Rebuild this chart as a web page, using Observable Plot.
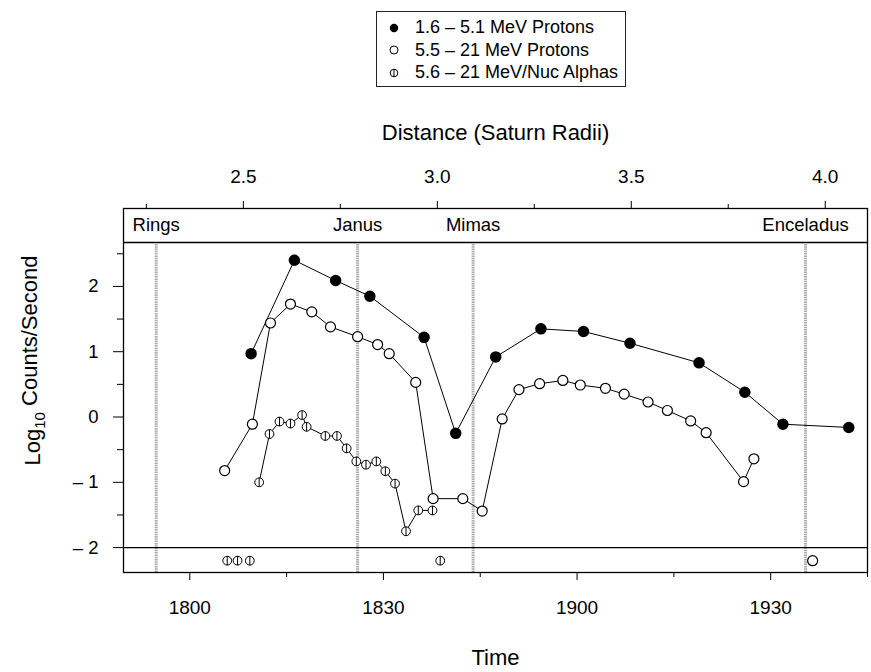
<!DOCTYPE html>
<html>
<head>
<meta charset="utf-8">
<script src="https://cdn.jsdelivr.net/npm/d3@7"></script>
<script src="https://cdn.jsdelivr.net/npm/@observablehq/plot@0.6"></script>
<style>
  body { margin: 0; background: #fff; font-family: "Liberation Sans", Arial, Helvetica, sans-serif; }
  #legend { position: relative; width: 871px; height: 100px; }
  #legend .box { position: absolute; left: 376px; top: 11px; width: 248px; height: 70px; padding-top: 4px;
                 border: 1px solid #222; }
  #legend .row { position: relative; height: 22.5px; line-height: 22.5px; font-size: 18px;
                 padding-left: 38px; white-space: nowrap; color: #000; }
  #legend .row svg { position: absolute; left: 10px; top: 4.5px; }
  #chart svg { display: block; }
</style>
</head>
<body>
<div id="legend"></div>
<div id="chart"></div>
<script>
// Energetic particle count rates during the Saturn ring-plane crossing.
// Times are minutes after 18:00 UT; rates are log10 counts per second.

const seriesNames = ["1.6 \u2013 5.1 MeV Protons", "5.5 \u2013 21 MeV Protons", "5.6 \u2013 21 MeV/Nuc Alphas"];

// 1.6 - 5.1 MeV protons
const lowProtonTime = [9.5, 16.2, 22.6, 27.9, 36.3, 41.2, 47.4, 54.4, 61.0, 68.2, 78.9, 86.0, 91.9, 102.1];
const lowProtonLog  = [0.97, 2.40, 2.09, 1.85, 1.22, -0.25, 0.92, 1.35, 1.31, 1.13, 0.83, 0.38, -0.11, -0.16];

// 5.5 - 21 MeV protons
const highProtonTime = [5.4, 9.7, 12.5, 15.6, 18.9, 21.8, 26.0, 29.1, 30.9, 35.0, 37.7, 42.3, 45.3,
                        48.4, 51.0, 54.2, 57.8, 60.5, 64.4, 67.3, 71.0, 74.0, 77.6, 80.0, 85.8, 87.4];
const highProtonLog  = [-0.82, -0.11, 1.44, 1.73, 1.61, 1.38, 1.23, 1.11, 0.97, 0.53, -1.25, -1.25, -1.44,
                        -0.03, 0.42, 0.51, 0.56, 0.49, 0.44, 0.35, 0.23, 0.10, -0.06, -0.24, -0.99, -0.64];
const highProtonBelowTime = [96.5];   // samples with no detectable counts

// 5.6 - 21 MeV/nucleon alphas
const alphaTime = [10.75, 12.35, 13.9, 15.6, 17.4, 18.1, 21.0, 22.8, 24.3, 25.8, 27.3, 28.9, 30.3,
                   31.8, 33.5, 35.4, 37.6];
const alphaLog  = [-1.00, -0.26, -0.07, -0.10, 0.03, -0.15, -0.29, -0.29, -0.48, -0.68, -0.73, -0.68,
                   -0.83, -1.02, -1.75, -1.43, -1.43];
const alphaBelowTime = [5.8, 7.4, 9.3, 38.8];

// Ring edge and satellite orbits crossed
const moonNames = ["Rings", "Janus", "Mimas", "Enceladus"];
const moonTime  = [-5.2, 26.0, 43.9, 95.4];

// Axis ticks
const timeTicks = [0, 30, 60, 90];
const timeTickLabels = ["1800", "1830", "1900", "1930"];
const timeMinorTicks = [15, 45, 75, 105];
const distTicks = [2.5, 3.0, 3.5, 4.0];
const distTickLabels = ["2.5", "3.0", "3.5", "4.0"];
const distMinorTicks = [2.25, 2.75, 3.25, 3.75];
const yTicks = [-2, -1, 0, 1, 2];
const yTickLabels = ["\u2013 2", "\u2013 1", "0", "1", "2"];
const yMinorTicks = [-1.5, -0.5, 0.5, 1.5, 2.5];

// Radial distance (Saturn radii) along the trajectory, as minutes after 18:00
const DIST_T0 = 8.3, MIN_PER_RS = 60.1;
const distToTime = d => DIST_T0 + (d - 2.5) * MIN_PER_RS;

// Panel layout in data units: label strip on top, "not detected" strip below -2
const Y_BOTTOM = -2.381, Y_TOP = 3.193, STRIP = 2.672, FLOOR = -2, BELOW = -2.2;

const rows = (ts, vs) => ts.map((t, i) => ({t, v: vs[i]}));
const lowProton = rows(lowProtonTime, lowProtonLog);
const highProton = rows(highProtonTime, highProtonLog);
const alpha = rows(alphaTime, alphaLog);
const moons = moonNames.map((name, i) => ({name, t: moonTime[i]}));

const timeLabel = new Map(timeTicks.map((t, i) => [t, timeTickLabels[i]]));
const distMajorT = distTicks.map(distToTime);
const distLabel = new Map(distMajorT.map((t, i) => [t, distTickLabels[i]]));
const yLabel = new Map(yTicks.map((v, i) => [v, yTickLabels[i]]));

// Circle with a vertical bar (phi) for alphas
const phi = {
  draw(ctx, size) {
    const r = Math.sqrt(size / Math.PI);
    ctx.moveTo(r, 0);
    ctx.arc(0, 0, r, 0, 2 * Math.PI);
    ctx.moveTo(0, -r);
    ctx.lineTo(0, r);
  }
};

// Legend
const legendSymbols = [
  '<svg width="14" height="14"><circle cx="7" cy="7" r="4.2" fill="#000"/></svg>',
  '<svg width="14" height="14"><circle cx="7" cy="7" r="4" fill="#fff" stroke="#000" stroke-width="1"/></svg>',
  '<svg width="14" height="14"><circle cx="7" cy="7" r="3.8" fill="#fff" stroke="#000" stroke-width="1"/><line x1="7" x2="7" y1="3" y2="11" stroke="#000" stroke-width="1"/></svg>'
];
const box = document.createElement("div");
box.className = "box";
seriesNames.forEach((name, i) => {
  const row = document.createElement("div");
  row.className = "row";
  row.innerHTML = legendSymbols[i];
  row.appendChild(document.createTextNode(name));
  box.appendChild(row);
});
document.getElementById("legend").appendChild(box);

const line = {x: "t", y: "v", stroke: "black", strokeWidth: 1};
const Y_TITLE = "Log10 Counts/Second";

const chart = Plot.plot({
  width: 871,
  height: 572,
  marginLeft: 123,
  marginRight: 4,
  marginTop: 108,
  marginBottom: 100,
  style: {fontFamily: '"Liberation Sans", Arial, Helvetica, sans-serif', fontSize: "18px", background: "white", color: "black"},
  x: {domain: [-10.27, 105]},
  y: {domain: [Y_BOTTOM, Y_TOP]},
  marks: [
    Plot.ruleX(moons, {x: "t", y1: Y_BOTTOM, y2: STRIP, stroke: "#ababab", strokeWidth: 3, strokeDasharray: "1.5,0.8"}),
    Plot.frame({stroke: "black", strokeWidth: 1.3}),
    Plot.ruleY([STRIP, FLOOR], {stroke: "black", strokeWidth: 1.3}),
    Plot.text(moons, {x: "t", y: (Y_TOP + STRIP) / 2, text: "name", fontSize: 18.5, fill: "black"}),

    Plot.line(highProton, line),
    Plot.line(alpha, line),
    Plot.line(lowProton, line),

    Plot.dot(alpha, {x: "t", y: "v", r: 4.4, symbol: phi, fill: "white", stroke: "black", strokeWidth: 1}),
    Plot.dot(alphaBelowTime, {x: d => d, y: () => BELOW, r: 4.4, symbol: phi, fill: "white", stroke: "black", strokeWidth: 1}),
    Plot.dot(highProton, {x: "t", y: "v", r: 5, fill: "white", stroke: "black", strokeWidth: 1.2}),
    Plot.dot(highProtonBelowTime, {x: d => d, y: () => BELOW, r: 5, fill: "white", stroke: "black", strokeWidth: 1.2}),
    Plot.dot(lowProton, {x: "t", y: "v", r: 5, fill: "black", stroke: "black"}),

    // Time axis (bottom)
    Plot.axisX({anchor: "bottom", ticks: timeTicks, tickFormat: d => timeLabel.get(d), tickSize: 8, tickPadding: 20, fontSize: 19, label: null}),
    Plot.axisX({anchor: "bottom", ticks: timeMinorTicks, tickFormat: () => "", tickSize: 5, label: null}),
    // Distance axis (top)
    Plot.axisX({anchor: "top", ticks: distMajorT, tickFormat: d => distLabel.get(d), tickSize: 8, tickPadding: 18, fontSize: 19, label: null}),
    Plot.axisX({anchor: "top", ticks: distMinorTicks.map(distToTime), tickFormat: () => "", tickSize: 5, label: null}),
    // Count-rate axis
    Plot.axisY({ticks: yTicks, tickFormat: d => yLabel.get(d), tickSize: 10, tickPadding: 15, fontSize: 18.5, label: null}),
    Plot.axisY({ticks: yMinorTicks, tickFormat: () => "", tickSize: 6, label: null}),

    Plot.text(["Distance (Saturn Radii)"], {frameAnchor: "top", lineAnchor: "middle", dy: -76, fontSize: 22, fill: "black"}),
    Plot.text(["Time"], {frameAnchor: "bottom", lineAnchor: "middle", dy: 85, fontSize: 22, fill: "black"}),
    Plot.text([Y_TITLE], {frameAnchor: "left", textAnchor: "middle", lineAnchor: "middle", dx: -91, dy: -30, rotate: -90, fontSize: 22, fill: "black"})
  ]
});

// Subscript the base of the logarithm in the y title
const yt = d3.select(chart).selectAll("text").filter(function() { return this.textContent === Y_TITLE; });
yt.text(null);
yt.append("tspan").text("Log");
yt.append("tspan").attr("dy", "0.35em").attr("font-size", "15px").text("10");
yt.append("tspan").attr("dy", "-0.35em").text(" Counts/Second");

document.getElementById("chart").appendChild(chart);
</script>
</body>
</html>
